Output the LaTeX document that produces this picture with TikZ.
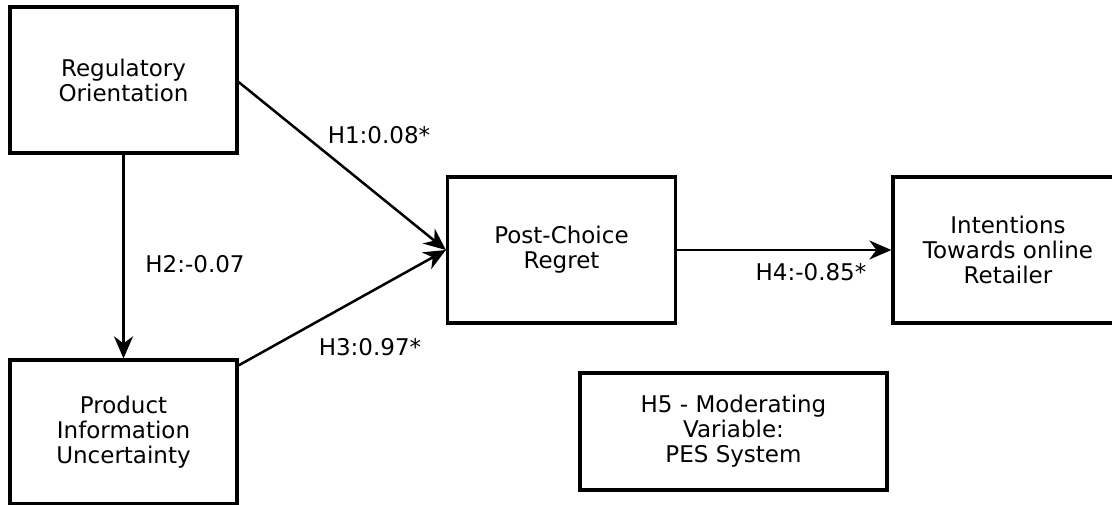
\documentclass[tikz,border=0pt]{standalone}
\usepackage{fontspec}
\setmainfont{DejaVu Sans}
\usetikzlibrary{arrows.meta}
\tikzset{
    var-box/.style = {draw=black, fill=white, line width=3.2pt, rectangle, align=center, inner sep=0pt, font=\fontsize{23}{25}\selectfont},
    path-arrow/.style = {draw=black, line width=2.5pt, -{Stealth[length=22pt, width=19pt, inset=7pt]}},
    path-label/.style = {inner sep=0pt, font=\fontsize{23}{25}\selectfont},
}

\begin{document}
\begin{tikzpicture}[x=1pt, y=-1pt]
\useasboundingbox (0,0) rectangle (1112,505);
% constructs
\node [var-box, minimum width=227pt, minimum height=146pt] (ro) at (123.5,80) {Regulatory\\Orientation};
\node [var-box, minimum width=227pt, minimum height=144pt] (piu) at (123.5,432) {Product\\Information\\Uncertainty};
\node [var-box, minimum width=228pt, minimum height=146pt] (pcr) at (561.5,250) {Post-Choice\\Regret};
\node [var-box, minimum width=230pt, minimum height=146pt] (itr) at (1008,250) {Intentions\\Towards online\\Retailer};
\node [var-box, minimum width=307pt, minimum height=117pt] (pes) at (733.5,431.5) {H5 - Moderating\\Variable:\\PES System};
% paths
\draw [path-arrow] ([yshift=-2pt]ro.east) -- (pcr.west);
\draw [path-arrow] (ro.south) -- (piu.north);
\draw [path-arrow] ([yshift=-7pt]piu.north east) -- (pcr.west);
\draw [path-arrow] (pcr.east) -- (itr.west);
% coefficients
\node [path-label] (h1) at (379,135) {H1:0.08*};
\node [path-label] (h2) at (195,264) {H2:-0.07};
\node [path-label] (h3) at (370,347) {H3:0.97*};
\node [path-label] (h4) at (811,272) {H4:-0.85*};
\end{tikzpicture}
\end{document}
